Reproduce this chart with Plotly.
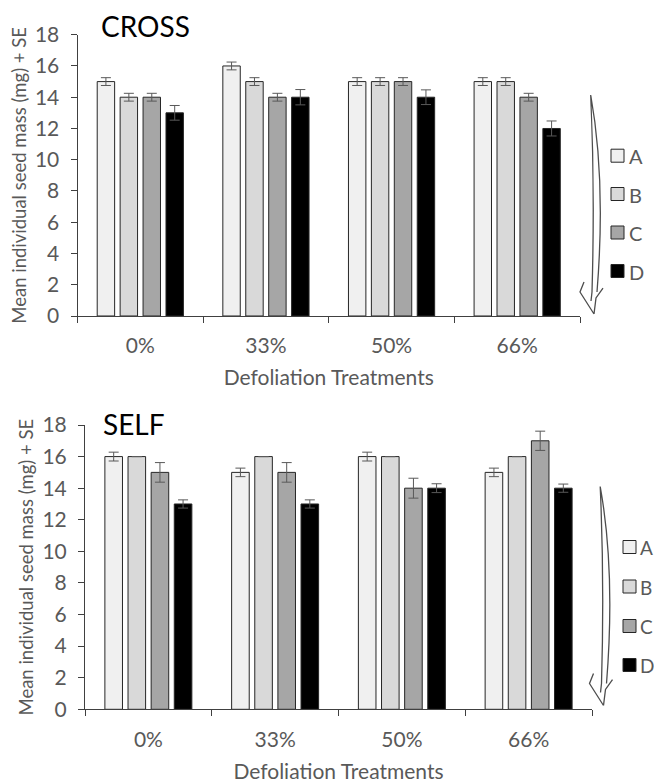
import plotly.graph_objects as go

# ---- data ----
categories = ["0%", "33%", "50%", "66%"]
series_names = ["A", "B", "C", "D"]
series_colors = ["#f0f0f0", "#d9d9d9", "#a6a6a6", "#000000"]

cross_A = [15, 16, 15, 15]
cross_B = [14, 15, 15, 15]
cross_C = [14, 14, 15, 14]
cross_D = [13, 14, 14, 12]
cross_A_se = [0.25, 0.25, 0.25, 0.25]
cross_B_se = [0.25, 0.25, 0.25, 0.25]
cross_C_se = [0.25, 0.25, 0.25, 0.25]
cross_D_se = [0.47, 0.49, 0.47, 0.48]

self_A = [16, 15, 16, 15]
self_B = [16, 16, 16, 16]
self_C = [15, 15, 14, 17]
self_D = [13, 13, 14, 14]
self_A_se = [0.28, 0.27, 0.28, 0.27]
self_B_se = [0, 0, 0, 0]
self_C_se = [0.62, 0.62, 0.63, 0.61]
self_D_se = [0.26, 0.26, 0.28, 0.26]

y_ticks = [0, 2, 4, 6, 8, 10, 12, 14, 16, 18]

panel_titles = ["CROSS", "SELF"]
x_title = "Defoliation Treatments"
y_title = "Mean individual seed mass (mg) + SE"

# the page's body margin is removed (post_script), so the figure fills the window
W, H = 654, 783
FONT = "Lato, Carlito, 'Open Sans', sans-serif"
GRAY = "#595959"
AXIS = "#404040"
EDGE = "#262626"


def px(x):
    return x / W


def py(y):
    return 1 - y / H


fig = go.Figure()

cross_vals = [cross_A, cross_B, cross_C, cross_D]
cross_errs = [cross_A_se, cross_B_se, cross_C_se, cross_D_se]
self_vals = [self_A, self_B, self_C, self_D]
self_errs = [self_A_se, self_B_se, self_C_se, self_D_se]

for i, name in enumerate(series_names):
    fig.add_trace(go.Bar(
        x=categories, y=cross_vals[i], name=name, showlegend=False,
        marker=dict(color=series_colors[i], line=dict(color=EDGE, width=1)),
        error_y=dict(type="data", array=cross_errs[i], visible=True,
                     color=GRAY, thickness=1, width=5),
        xaxis="x", yaxis="y",
    ))
for i, name in enumerate(series_names):
    fig.add_trace(go.Bar(
        x=categories, y=self_vals[i], name=name, showlegend=False,
        marker=dict(color=series_colors[i], line=dict(color=EDGE, width=1)),
        error_y=dict(type="data", array=self_errs[i], visible=True,
                     color=GRAY, thickness=1, width=5),
        xaxis="x2", yaxis="y2",
    ))

xax = dict(
    type="category", showline=True, linecolor=AXIS, linewidth=1,
    ticks="outside", tickson="boundaries", ticklen=6, tickcolor=AXIS,
    tickfont=dict(family=FONT, size=21, color=GRAY), ticklabelstandoff=11,
    title=dict(text=x_title, font=dict(family=FONT, size=21, color=GRAY), standoff=14),
    showgrid=False, zeroline=False, fixedrange=True,
)
yax = dict(
    range=[0, 18], tickvals=y_ticks, showline=True, linecolor=AXIS, linewidth=1,
    ticks="outside", ticklen=6, tickcolor=AXIS,
    tickfont=dict(family=FONT, size=21, color=GRAY), ticklabelstandoff=7,
    title=dict(text=y_title, font=dict(family=FONT, size=18.5, color=GRAY), standoff=3),
    showgrid=False, zeroline=False,
)

fig.update_layout(
    width=W, height=H,
    margin=dict(l=0, r=0, t=0, b=0, autoexpand=False),
    paper_bgcolor="white", plot_bgcolor="white",
    barmode="group", bargap=0.27, bargroupgap=0.24,
    xaxis=dict(xax, domain=[px(77.5), px(580)], anchor="y"),
    yaxis=dict(yax, domain=[py(316), py(34.7)], anchor="x"),
    xaxis2=dict(xax, domain=[px(85), px(592)], anchor="y2"),
    yaxis2=dict(yax, domain=[py(709.3), py(425)], anchor="x2"),
    showlegend=False,
)

# panel titles
fig.add_annotation(text=panel_titles[0], x=px(99), y=py(26.5), xref="paper", yref="paper",
                   xanchor="left", yanchor="middle", showarrow=False,
                   font=dict(family=FONT, size=28, color="#000000"))
fig.add_annotation(text=panel_titles[1], x=px(101), y=py(423.5), xref="paper", yref="paper",
                   xanchor="left", yanchor="middle", showarrow=False,
                   font=dict(family=FONT, size=28, color="#000000"))

# legends (swatch + letter) for each panel
legend_specs = [
    dict(x=611, ys=[155.7, 194, 232.5, 271], gap=16, size=20),
    dict(x=623, ys=[547, 586.5, 626, 665], gap=14.5, size=19),
]
for spec in legend_specs:
    for name, color, yc in zip(series_names, series_colors, spec["ys"]):
        fig.add_shape(type="rect", xref="paper", yref="paper",
                      x0=px(spec["x"]), x1=px(spec["x"] + 13),
                      y0=py(yc + 6.5), y1=py(yc - 6.5),
                      fillcolor=color, line=dict(color=EDGE, width=1))
        fig.add_annotation(text=name, x=px(spec["x"] + spec["gap"]), y=py(yc + 0.5),
                           xref="paper", yref="paper", xanchor="left", yanchor="middle",
                           showarrow=False,
                           font=dict(family=FONT, size=spec["size"], color=GRAY))


# hand-drawn style downward arrows (decoration)
def arrow_path(dx, dy):
    def P(x, y):
        return f"{px(x + dx):.5f},{py(y + dy):.5f}"
    return (
        f"M {P(590.7, 95)} Q {P(595, 190)} {P(592, 292)} "
        f"M {P(590.7, 95)} Q {P(606, 180)} {P(597, 292)} "
        f"M {P(592, 292)} L {P(591, 301)} "
        f"M {P(584, 282)} L {P(580, 292)} L {P(594, 314)} "
        f"M {P(603, 288)} L {P(596, 298)} L {P(594, 314)}"
    )


for dx, dy in [(0, 0), (9.5, 391.5)]:
    fig.add_shape(type="path", path=arrow_path(dx, dy), xref="paper", yref="paper",
                  line=dict(color="#4d4d4d", width=1.3))

fig.write_html(
    "out.html",
    config={"displayModeBar": False},
    post_script="document.body.style.margin='0';document.body.style.overflow='hidden';",
)
